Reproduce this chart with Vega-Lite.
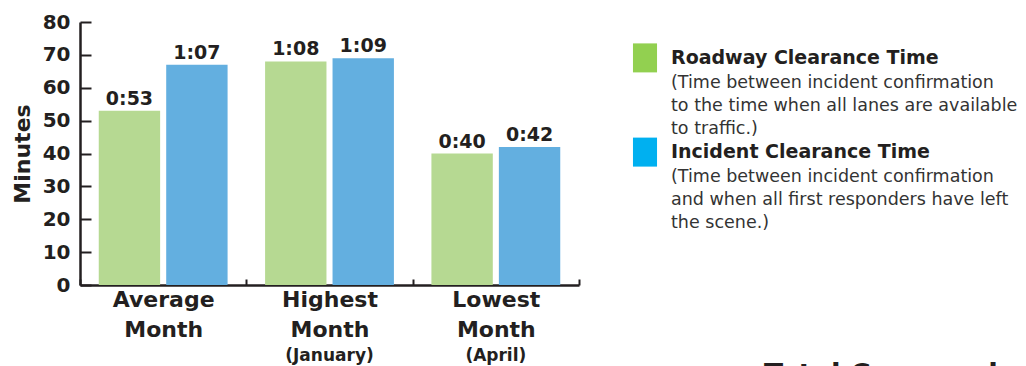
{
  "$schema": "https://vega.github.io/schema/vega-lite/v6.json",
  "padding": {"left": 11, "top": 12, "right": 0, "bottom": 0},
  "background": "white",
  "config": {"font": "DejaVu Sans", "view": {"stroke": null}},
  "spacing": 52,
  "resolve": {"scale": {"color": "independent", "y": "independent", "x": "independent"}},
  "hconcat": [
    {
      "width": 499,
      "height": 263,
      "data": {"values": [
        {"category": "Average Month", "series": "Roadway Clearance Time", "minutes": 53, "label": "0:53", "note": ""},
        {"category": "Average Month", "series": "Incident Clearance Time", "minutes": 67, "label": "1:07", "note": ""},
        {"category": "Highest Month", "series": "Roadway Clearance Time", "minutes": 68, "label": "1:08", "note": "(January)"},
        {"category": "Highest Month", "series": "Incident Clearance Time", "minutes": 69, "label": "1:09", "note": "(January)"},
        {"category": "Lowest Month", "series": "Roadway Clearance Time", "minutes": 40, "label": "0:40", "note": "(April)"},
        {"category": "Lowest Month", "series": "Incident Clearance Time", "minutes": 42, "label": "0:42", "note": "(April)"}
      ]},
      "encoding": {
        "x": {"field": "category", "type": "nominal", "sort": null,
          "scale": {"paddingInner": 0, "paddingOuter": 0},
          "axis": {"title": null, "labelAngle": 0, "labelExpr": "datum.value ? split(datum.value, ' ') : ''",
            "labelFontSize": 22, "labelFontWeight": "bold", "labelColor": "#231f20",
            "labelLineHeight": 30, "labelPadding": 10, "labelBaseline": "top", "labelOverlap": false,
            "tickBand": "extent", "tickSize": -6, "tickColor": "#231f20", "tickWidth": 2,
            "domainColor": "#231f20", "domainWidth": 2.5}},
        "y": {"field": "minutes", "type": "quantitative",
          "scale": {"domain": [0, 80]},
          "axis": {"title": "Minutes", "values": [0, 10, 20, 30, 40, 50, 60, 70, 80], "grid": false, "labelOverlap": false,
            "labelFontSize": 20, "labelFontWeight": "bold", "labelColor": "#231f20", "labelPadding": 21,
            "tickSize": -11, "tickWidth": 2, "tickColor": "#231f20",
            "domainColor": "#231f20", "domainWidth": 2.5,
            "titleFontSize": 22, "titleFontWeight": "bold", "titleColor": "#231f20", "titlePadding": 8}}
      },
      "layer": [
        {"mark": {"type": "bar"},
          "encoding": {
            "xOffset": {"field": "series", "type": "nominal", "sort": ["Roadway Clearance Time", "Incident Clearance Time"],
              "scale": {"paddingInner": 0.09, "paddingOuter": 0.278}},
            "color": {"field": "series", "type": "nominal",
              "scale": {"domain": ["Roadway Clearance Time", "Incident Clearance Time"], "range": ["#b6d992", "#63afe0"]},
              "legend": null}}},
        {"mark": {"type": "text", "dy": -6, "baseline": "alphabetic", "fontSize": 19, "fontWeight": "bold", "color": "#231f20"},
          "encoding": {
            "xOffset": {"field": "series", "type": "nominal", "sort": ["Roadway Clearance Time", "Incident Clearance Time"],
              "scale": {"paddingInner": 0.09, "paddingOuter": 0.278}},
            "text": {"field": "label"}}},
        {"transform": [{"filter": "datum.series === 'Roadway Clearance Time' && datum.note !== ''"}],
          "mark": {"type": "text", "dy": 76, "baseline": "alphabetic", "fontSize": 17, "fontWeight": "bold", "color": "#231f20"},
          "encoding": {
            "y": {"datum": 0},
            "text": {"field": "note"}}}
      ]
    },
    {
      "width": 24,
      "height": 166,
      "layer": [
        {
          "data": {"values": [
            {"item": "Roadway Clearance Time", "desc": "(Time between incident confirmation\nto the time when all lanes are available\nto traffic.)"},
            {"item": "Incident Clearance Time", "desc": "(Time between incident confirmation\nand when all first responders have left\nthe scene.)"}
          ]},
          "encoding": {
            "y": {"field": "item", "type": "nominal", "sort": null, "scale": {"type": "point", "padding": 0.381}, "axis": null}
          },
          "layer": [
            {"mark": {"type": "point", "shape": "M-0.83,-1H0.83V1H-0.83Z", "size": 841, "filled": true, "opacity": 1},
              "encoding": {"color": {"field": "item", "type": "nominal",
                "scale": {"domain": ["Roadway Clearance Time", "Incident Clearance Time"], "range": ["#92d050", "#00b0f0"]},
                "legend": null}}},
            {"mark": {"type": "text", "align": "left", "baseline": "alphabetic", "dx": 26, "dy": 6, "fontSize": 19, "fontWeight": "bold", "color": "#231f20"},
              "encoding": {"text": {"field": "item"}}},
            {"mark": {"type": "text", "align": "left", "baseline": "alphabetic", "dx": 26, "dy": 30, "fontSize": 17.5, "lineHeight": 23, "lineBreak": "\n", "color": "#333333"},
              "encoding": {"text": {"field": "desc"}}}
          ]
        },
        {
          "data": {"values": [{"heading": "Total Communications"}]},
          "mark": {"type": "text", "align": "left", "baseline": "alphabetic", "dx": 119, "dy": 279, "fontSize": 28, "fontWeight": "bold", "color": "#231f20"},
          "encoding": {"text": {"field": "heading"}}
        }
      ]
    }
  ]
}
